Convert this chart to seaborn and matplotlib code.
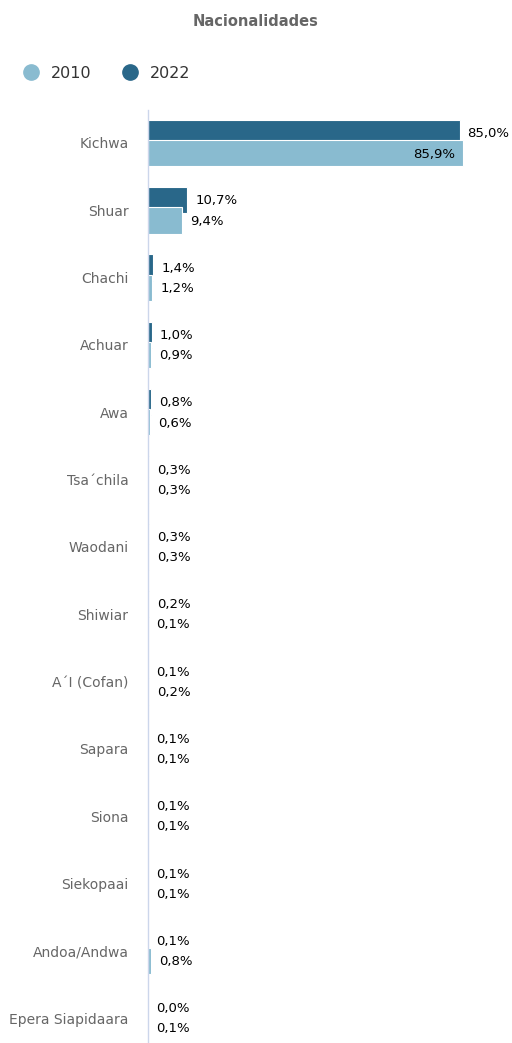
import matplotlib
matplotlib.use("Agg")
import matplotlib.pyplot as plt
from matplotlib.lines import Line2D
import seaborn as sns
import pandas as pd

categories = ["Kichwa", "Shuar", "Chachi", "Achuar", "Awa", "Tsa´chila", "Waodani",
              "Shiwiar", "A´I (Cofan)", "Sapara", "Siona", "Siekopaai", "Andoa/Andwa",
              "Epera Siapidaara"]
values_2022 = [85.0, 10.7, 1.4, 1.0, 0.8, 0.3, 0.3, 0.2, 0.1, 0.1, 0.1, 0.1, 0.1, 0.0]
values_2010 = [85.9, 9.4, 1.2, 0.9, 0.6, 0.3, 0.3, 0.1, 0.2, 0.1, 0.1, 0.1, 0.8, 0.1]
years = ["2022", "2010"]
title = "Nacionalidades"

colors = {"2022": "#296789", "2010": "#89bbd0"}

df = pd.DataFrame({
    "cat": categories * 2,
    "val": values_2022 + values_2010,
    "year": ["2022"] * len(categories) + ["2010"] * len(categories),
})

sns.set_theme(style="white")
plt.rcParams["font.family"] = ["DejaVu Sans"]

fig = plt.figure(figsize=(5.12, 10.43), dpi=100)
H = 1043.0
ax = fig.add_axes([148 / 512, 0, 1 - 148 / 512, 1 - 110 / H])

sns.barplot(data=df, y="cat", x="val", hue="year", hue_order=years, order=categories,
            palette=colors, saturation=1, width=0.6, dodge=True, orient="h", ax=ax,
            edgecolor="white", linewidth=0.8, legend=False)

# adjust bar thickness / overlap
bh = 0.39
for p in ax.patches:
    c = p.get_y() + p.get_height() / 2
    ci = round(c)
    off = -0.15 if c < ci else 0.15
    p.set_height(bh)
    p.set_y(ci + off - bh / 2)

ax.set_xlim(0, 99.3)
ax.set_ylim(13.37, -0.49)
ax.set_xlabel("")
ax.set_ylabel("")
ax.set_xticks([])
for s in ["top", "right", "bottom"]:
    ax.spines[s].set_visible(False)
ax.spines["left"].set_color("#ccd6eb")
ax.spines["left"].set_linewidth(1)
ax.tick_params(axis="y", length=0, pad=14, labelsize=10, labelcolor="#666666")

def fmt(v):
    return f"{v:.1f}%".replace(".", ",")

for i, (a, b) in enumerate(zip(values_2022, values_2010)):
    ax.annotate(fmt(a), (a, i - 0.14), xytext=(8, 0), textcoords="offset pixels",
                ha="left", va="center", fontsize=9.5, color="black")
    if b > 50:
        ax.annotate(fmt(b), (b, i + 0.17), xytext=(-8, 0), textcoords="offset pixels",
                    ha="right", va="center", fontsize=9.5, color="black")
    else:
        ax.annotate(fmt(b), (b, i + 0.16), xytext=(8, 0), textcoords="offset pixels",
                    ha="left", va="center", fontsize=9.5, color="black")

fig.text(0.5, 1 - 22 / H, title, ha="center", va="center", fontsize=10.5,
         fontweight="bold", color="#666666")

handles = [Line2D([0], [0], marker="o", linestyle="", markersize=11,
                  markerfacecolor=colors[y], markeredgecolor=colors[y]) for y in ["2010", "2022"]]
fig.legend(handles, ["2010", "2022"], loc="center left", bbox_to_anchor=(1 / 512, 1 - 73 / H),
           ncol=2, frameon=False, fontsize=11.5, handletextpad=0.25, columnspacing=1.4,
           labelcolor="#333333")

fig.savefig("out.png", dpi=100)
